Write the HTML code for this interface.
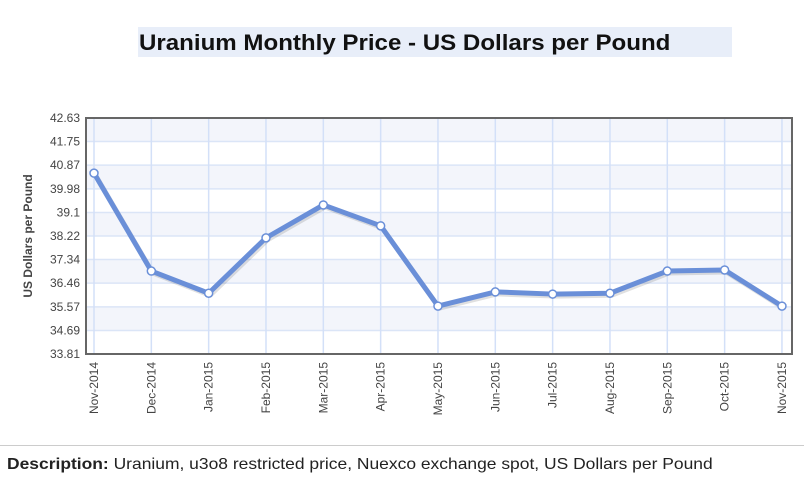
<!DOCTYPE html>
<html><head><meta charset="utf-8"><style>
body{margin:0;background:#fff;font-family:"Liberation Sans",sans-serif;}
#wrap{position:relative;width:804px;height:486px;overflow:hidden}
#titlebox{position:absolute;left:138px;top:27px;width:594px;height:30px;background:#e8eef9}
#title{position:absolute;left:139px;top:27px;font-weight:bold;font-size:22px;color:#111;line-height:32px;white-space:nowrap;transform:scaleX(1.095);transform-origin:left center}
#sep{position:absolute;left:0;top:445px;width:804px;height:1px;background:#ccc}
#desc{position:absolute;left:7px;top:456px;font-size:16px;color:#222;white-space:nowrap;transform:scaleX(1.09);transform-origin:left center}
</style></head><body>
<div id="wrap">
<div id="titlebox"></div>
<div id="title">Uranium Monthly Price - US Dollars per Pound</div>
<svg id="chart" width="804" height="486" style="position:absolute;left:0;top:0"></svg>
<div id="sep"></div>
<div id="desc"><b>Description:</b> Uranium, u3o8 restricted price, Nuexco exchange spot, US Dollars per Pound</div>
</div>
<script>
const categories=["Nov-2014","Dec-2014","Jan-2015","Feb-2015","Mar-2015","Apr-2015","May-2015","Jun-2015","Jul-2015","Aug-2015","Sep-2015","Oct-2015","Nov-2015"];
const prices=[40.57,36.91,36.08,38.15,39.38,38.60,35.60,36.13,36.05,36.08,36.91,36.95,35.60];
const yTicks=["33.81","34.69","35.57","36.46","37.34","38.22","39.1","39.98","40.87","41.75","42.63"];
const yMin=33.81,yMax=42.63;
const L=86,R=792,T=118,B=354,x0=94,dx=57.33;
const NS="http://www.w3.org/2000/svg";
const svg=document.getElementById('chart');
function xs(i){return x0+i*dx;}
function ys(v){return B-(v-yMin)/(yMax-yMin)*(B-T);}
function mk(t,a,p){const e=document.createElementNS(NS,t);for(const k in a)e.setAttribute(k,a[k]);(p||svg).appendChild(e);return e;}
for(let i=0;i<yTicks.length-1;i++){
  const y1=ys(+yTicks[i+1]),y2=ys(+yTicks[i]);
  const r=mk('rect',{x:L,y:y1,width:R-L,height:y2-y1,fill:(yTicks.length-2-i)%2===0?'#f3f5fb':'#ffffff'});
  
  
}
yTicks.forEach(t=>{
  const y=ys(+t);
  const l=mk('line',{x1:L,x2:R,y1:y,y2:y,stroke:'#dbe5f7','stroke-width':1.5});
  
  
  const tx=mk('text',{x:L-6,y:y+4,'text-anchor':'end','font-size':12,fill:'#444','font-family':'Liberation Sans, sans-serif'});
  tx.textContent=t;
  
  
});
categories.forEach((c,i)=>{
  const x=xs(i);
  const l=mk('line',{x1:x,x2:x,y1:T,y2:B,stroke:'#d3e0f8','stroke-width':1.5});
  
  
  const tx=mk('text',{transform:`translate(${x+4},${B+8}) rotate(-90)`,'text-anchor':'end','font-size':12,fill:'#444','font-family':'Liberation Sans, sans-serif'});
  tx.textContent=c;
  
  
});
const fr=mk('rect',{x:L,y:T,width:R-L,height:B-T,fill:'none',stroke:'#666','stroke-width':2});


const yt=mk('text',{transform:`translate(32,236) rotate(-90)`,'text-anchor':'middle','font-size':12,'font-weight':'bold',fill:'#444','font-family':'Liberation Sans, sans-serif'});
yt.textContent='US Dollars per Pound';


const pts=prices.map((v,i)=>xs(i)+','+ys(v)).join(' ');
const sh=mk('polyline',{points:pts,fill:'none',stroke:'rgba(0,0,0,0.12)','stroke-width':5,transform:'translate(1.5,2)','stroke-linejoin':'round'});


const pl=mk('polyline',{points:pts,fill:'none',stroke:'#6a8fd8','stroke-width':5,'stroke-linejoin':'round'});


prices.forEach((v,i)=>{
  const c=mk('circle',{cx:xs(i),cy:ys(v),r:4,fill:'#fff',stroke:'#6a8fd8','stroke-width':1.5});
  
  
});
</script>
</body></html>
